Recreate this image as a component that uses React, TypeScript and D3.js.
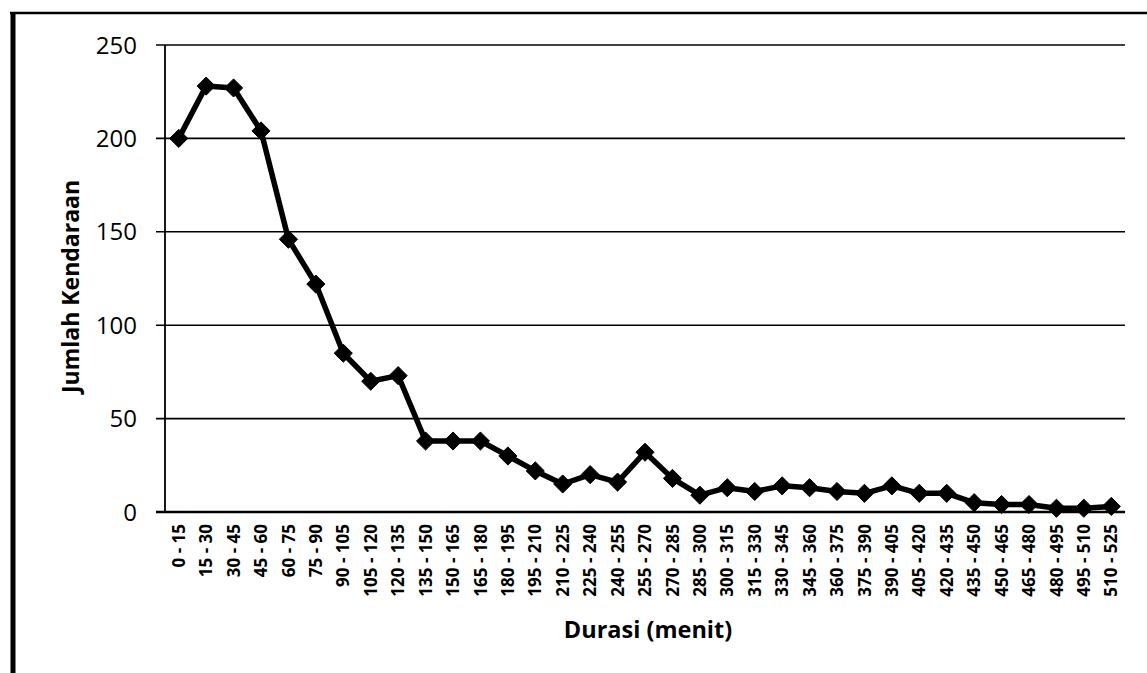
import React from 'react';
import * as d3 from 'd3';

// --- Data ---
const categories = [
  '0 - 15', '15 - 30', '30 - 45', '45 - 60', '60 - 75', '75 - 90', '90 - 105',
  '105 - 120', '120 - 135', '135 - 150', '150 - 165', '165 - 180', '180 - 195',
  '195 - 210', '210 - 225', '225 - 240', '240 - 255', '255 - 270', '270 - 285',
  '285 - 300', '300 - 315', '315 - 330', '330 - 345', '345 - 360', '360 - 375',
  '375 - 390', '390 - 405', '405 - 420', '420 - 435', '435 - 450', '450 - 465',
  '465 - 480', '480 - 495', '495 - 510', '510 - 525',
];
const jumlah = [
  200, 228, 227, 204, 146, 122, 85, 70, 73, 38, 38, 38, 30, 22, 15, 20, 16, 32,
  18, 9, 13, 11, 14, 13, 11, 10, 14, 10, 10, 5, 4, 4, 2, 2, 3,
];
const yTicks = [0, 50, 100, 150, 200, 250];

const W = 1147;
const H = 673;
const margin = { left: 165, right: 22, top: 45, bottom: 161 };

const App = () => {
  const x = d3.scaleBand<string>()
    .domain(categories)
    .range([margin.left, W - margin.right]);
  const y = d3.scaleLinear()
    .domain([0, 250])
    .range([H - margin.bottom, margin.top]);

  const cx = (c: string) => (x(c) ?? 0) + x.bandwidth() / 2;
  const line = d3.line<number>()
    .x((_, i) => cx(categories[i]))
    .y(d => y(d));

  const diamond = d3.symbol().type(d3.symbolDiamond2).size(210)();
  const font = "'Open Sans', 'DejaVu Sans', sans-serif";

  return (
    <svg width={W} height={H} style={{ position: 'absolute', left: 0, top: 0, background: '#fff' }}
      fontFamily={font}>
      {/* outer frame (only top and left visible) */}
      <line x1={10} x2={W} y1={13} y2={13} stroke="#000" strokeWidth={2.5} />
      <line x1={13} x2={13} y1={12} y2={H} stroke="#000" strokeWidth={5} />

      {/* gridlines + y ticks */}
      {yTicks.map(t => (
        <g key={t}>
          <line x1={margin.left - 9} x2={W - margin.right} y1={y(t)} y2={y(t)}
            stroke="#000" strokeWidth={t === 0 ? 2.5 : 1.6} />
          <text x={137} y={y(t)} dy="0.36em" textAnchor="end" fontSize={24}>{t}</text>
        </g>
      ))}
      <line x1={margin.left} x2={margin.left} y1={y(250)} y2={y(0)} stroke="#000" strokeWidth={1.8} />

      {/* x tick labels */}
      {categories.map(c => (
        <text key={c} transform={`translate(${cx(c)},${y(0) + 12}) rotate(-90)`}
          textAnchor="end" dy="0.36em" fontSize={17} fontWeight="bold">{c}</text>
      ))}

      {/* series */}
      <path d={line(jumlah) ?? ''} fill="none" stroke="#000" strokeWidth={5.5} strokeLinejoin="round" />
      {jumlah.map((v, i) => (
        <path key={i} d={diamond ?? ''} transform={`translate(${cx(categories[i])},${y(v)})`}
          fill="#000" stroke="#000" strokeWidth={1} />
      ))}

      {/* axis titles */}
      <text transform={`translate(79,${(y(0) + y(250)) / 2 + 8}) rotate(-90)`} textAnchor="middle"
        fontSize={23} fontWeight="bold">Jumlah Kendaraan</text>
      <text x={648} y={638} textAnchor="middle" fontSize={23.5} fontWeight="bold">Durasi (menit)</text>
    </svg>
  );
};

export default App;
